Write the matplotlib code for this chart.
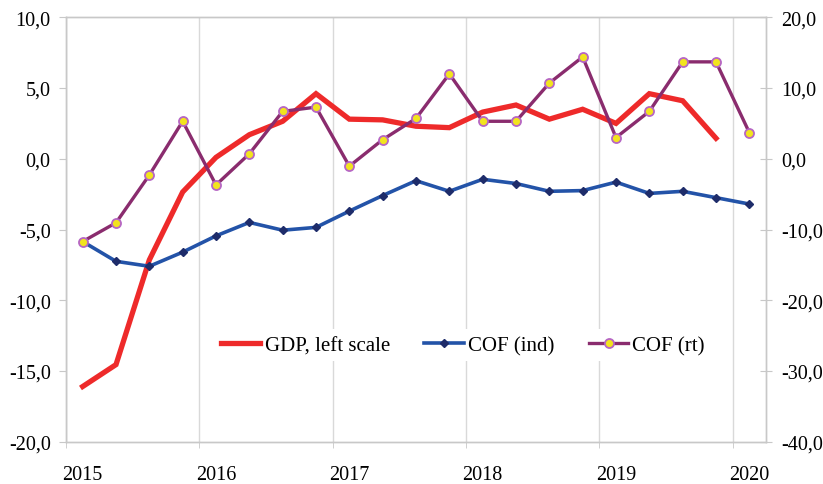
import matplotlib
matplotlib.use("Agg")
import matplotlib.pyplot as plt
import numpy as np
from matplotlib.ticker import FixedLocator, FuncFormatter

plt.rcParams['font.family'] = ['Liberation Serif', 'DejaVu Serif']

# quarterly categories 2015Q1 .. 2020Q1
year_labels = ["2015", "2016", "2017", "2018", "2019", "2020"]
n_quarters = 21

gdp = [-16.1, -14.55, -7.15, -2.35, 0.1, 1.7, 2.65, 4.6, 2.8, 2.75, 2.3, 2.2,
       3.3, 3.8, 2.8, 3.5, 2.5, 4.6, 4.1, 1.45]
cof_ind = [-5.85, -7.25, -7.6, -6.6, -5.45, -4.5, -5.05, -4.85, -3.7, -2.6,
           -1.55, -2.3, -1.45, -1.75, -2.3, -2.25, -1.65, -2.45, -2.3, -2.75, -3.2]
cof_rt = [-11.7, -9.05, -2.3, 5.3, -3.7, 0.7, 6.7, 7.3, -1.05, 2.7, 5.7, 12.0,
          5.3, 5.3, 10.7, 14.4, 3.0, 6.7, 13.7, 13.7, 3.7]

grid_c = "#d9d9d9"
spine_c = "#c8c8c8"

fig = plt.figure(figsize=(8.23, 4.85), dpi=100)
ax = fig.add_axes([66/823, 1-442.7/485, 700/823, (442.7-18.3)/485])
ax2 = ax.twinx()

x_all = np.arange(n_quarters)
l1, = ax.plot(x_all[:len(gdp)], gdp, color="#EE2A2A", lw=3.8, zorder=3,
              solid_joinstyle="miter", label="GDP, left scale")
l2, = ax.plot(x_all, cof_ind, color="#2353A8", lw=2.6, marker="D", markersize=4.2,
              markerfacecolor="#1E2C6A", markeredgecolor="#1E2C6A", zorder=4,
              label="COF (ind)")
l3, = ax2.plot(x_all, cof_rt, color="#8A2C6E", lw=2.4, marker="o", markersize=6.5,
               markerfacecolor="#F2E41E", markeredgecolor="#B666C4", markeredgewidth=1.3,
               zorder=5, label="COF (rt)")

ax.set_xlim(-0.5, n_quarters - 0.5)
ax.set_ylim(-20, 10)
ax2.set_ylim(-40, 20)

comma = FuncFormatter(lambda v, p: f"{v:.1f}".replace(".", ","))
ax.yaxis.set_major_locator(FixedLocator(np.arange(-20, 10.1, 5)))
ax.yaxis.set_major_formatter(comma)
ax2.yaxis.set_major_locator(FixedLocator(np.arange(-40, 20.1, 10)))
ax2.yaxis.set_major_formatter(comma)

ax.set_xticks(np.arange(0, n_quarters, 4))
ax.set_xticklabels(year_labels)
ax.set_xticks(np.arange(-0.5, n_quarters, 4), minor=True)
ax.xaxis.grid(True, which="minor", color=grid_c, lw=1.0)
ax.tick_params(axis="x", which="major", length=0, pad=17, labelsize=14.5, colors="black")
ax.tick_params(axis="x", which="minor", length=4, color=spine_c, direction="out")
ax.tick_params(axis="y", length=5, color=spine_c, pad=6, labelsize=14.5, direction="out")
ax2.tick_params(axis="y", length=8, color=spine_c, pad=7, labelsize=14.5, direction="inout")

for a in (ax, ax2):
    for s in a.spines.values():
        s.set_color(spine_c)
        s.set_linewidth(1.0)

ax.set_axisbelow(True)

leg = ax2.legend(handles=[l1, l2, l3], loc="center", bbox_to_anchor=(0.567, 0.227),
                 ncol=3, frameon=True, fontsize=15, handlelength=1.9,
                 handletextpad=0.2, columnspacing=1.65, borderpad=0.3,
                 borderaxespad=0)
leg.get_frame().set_facecolor("white")
leg.get_frame().set_edgecolor("none")
leg.get_frame().set_alpha(1)

fig.savefig("out.png", dpi=100)
